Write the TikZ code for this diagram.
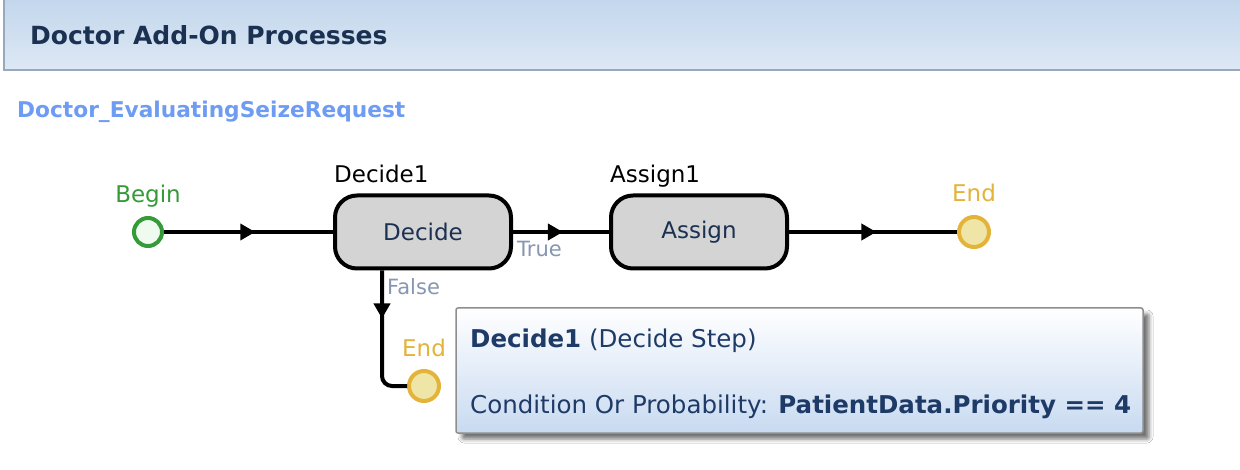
\documentclass[tikz,border=0pt]{standalone}
\usepackage{fontspec}
\setmainfont{DejaVu Sans}
\usetikzlibrary{arrows.meta,decorations.markings,positioning,shadows.blur}

\definecolor{headtop}{HTML}{C3D7EC}
\definecolor{headbot}{HTML}{DDE8F5}
\definecolor{headline}{HTML}{98A9BE}
\definecolor{headtxt}{HTML}{1B3152}
\definecolor{proctxt}{HTML}{6E9CF2}
\definecolor{begingreen}{HTML}{349B38}
\definecolor{beginfill}{HTML}{F0FBF0}
\definecolor{endgold}{HTML}{E3B33A}
\definecolor{endfill}{HTML}{EFE5A6}
\definecolor{stepfill}{HTML}{D4D4D4}
\definecolor{branchtxt}{HTML}{8796B2}
\definecolor{tipbot}{HTML}{C8DAF1}
\definecolor{tipline}{HTML}{8E8E8E}
\definecolor{tiptxt}{HTML}{1E3A66}

\tikzset{
  startpt/.style={circle, draw=begingreen, fill=beginfill, line width=4pt, minimum size=28pt, inner sep=0pt},
  endpt/.style={circle, draw=endgold, fill=endfill, line width=4pt, minimum size=30pt, inner sep=0pt},
  stepbox/.style={draw=black, fill=stepfill, line width=4pt, rounded corners=22pt,
    minimum width=176pt, minimum height=73pt, inner sep=0pt,
    font=\fontsize{23}{27}\selectfont, text=headtxt},
  steptitle/.style={inner sep=0pt, anchor=base west, font=\fontsize{23}{27}\selectfont, text=black},
  pointtxt/.style={inner sep=0pt, anchor=base, font=\fontsize{23}{27}\selectfont},
  branchlbl/.style={inner sep=0pt, anchor=base west, font=\fontsize{21}{25}\selectfont, text=branchtxt},
  flow/.style={line width=4pt, postaction={decorate}, decoration={markings,
    mark=at position #1 with {\arrow{Triangle[length=15pt,width=16pt]}}}},
  flow/.default=0.52,
  tipbox/.style={draw=tipline, line width=1.5pt, rounded corners=2pt, top color=white, bottom color=tipbot,
    blur shadow={shadow xshift=6pt, shadow yshift=-6pt, shadow blur radius=4pt, shadow opacity=55}},
  tiptext/.style={inner sep=0pt, anchor=base west, font=\fontsize{24.5}{28}\selectfont, text=tiptxt},
}

\begin{document}
\begin{tikzpicture}[x=1pt, y=-1pt]
  \useasboundingbox (0,0) rectangle (1240,470);
  \fill[white] (0,0) rectangle (1240,470);

  % header band
  \shade[top color=headtop, bottom color=headbot] (4,0) rectangle (1240,70);
  \draw[headline, line width=2pt] (4,0) -- (4,70) -- (1240,70);
  \node[anchor=base west, inner sep=0pt, font=\fontsize{25}{29}\selectfont\bfseries, text=headtxt] (headtitle) at (30,45) {Doctor Add-On Processes};
  \node[anchor=base west, inner sep=0pt, font=\fontsize{21.7}{25}\selectfont\bfseries, text=proctxt] (procname) at (17,118) {Doctor\_EvaluatingSeizeRequest};

  % steps
  \node[startpt] (begin) at (148,232) {};
  \node[stepbox] (decide) at (423,232) {Decide};
  \node[stepbox] (assign) at (699,232) {Assign};
  \node[endpt] (endtrue) at (974,232) {};
  \node[endpt] (endfalse) at (424,386) {};
  \coordinate (falsebend) at (382,386);

  \node[pointtxt, text=begingreen] (begintxt) at (148,203) {Begin};
  \node[pointtxt, text=endgold] (endtruetxt) at (974,202) {End};
  \node[pointtxt, text=endgold] (endfalsetxt) at (424,357) {End};
  \node[steptitle] (decidename) at (334,183) {Decide1};
  \node[steptitle] (assignname) at (610,183) {Assign1};

  % connectors
  \draw[flow=0.54] (begin) -- (decide);
  \draw[flow] (decide) -- (assign);
  \draw[flow] (assign) -- (endtrue);
  \draw[flow=48pt, rounded corners=10pt] (decide.south -| falsebend) |- (endfalse);
  \node[branchlbl] (truetxt) at (517,257) {True};
  \node[branchlbl] (falsetxt) at (387,295) {False};

  % tooltip
  \node[tipbox, minimum width=687pt, minimum height=125pt, inner sep=0pt] (tip) at (799.5,370.5) {};
  \node[tiptext] (tiphead) at (470,348) {\textbf{Decide1} (Decide Step)};
  \node[tiptext] (tipbody) at (470,413) {Condition Or Probability: \textbf{PatientData.Priority == 4}};
\end{tikzpicture}
\end{document}
